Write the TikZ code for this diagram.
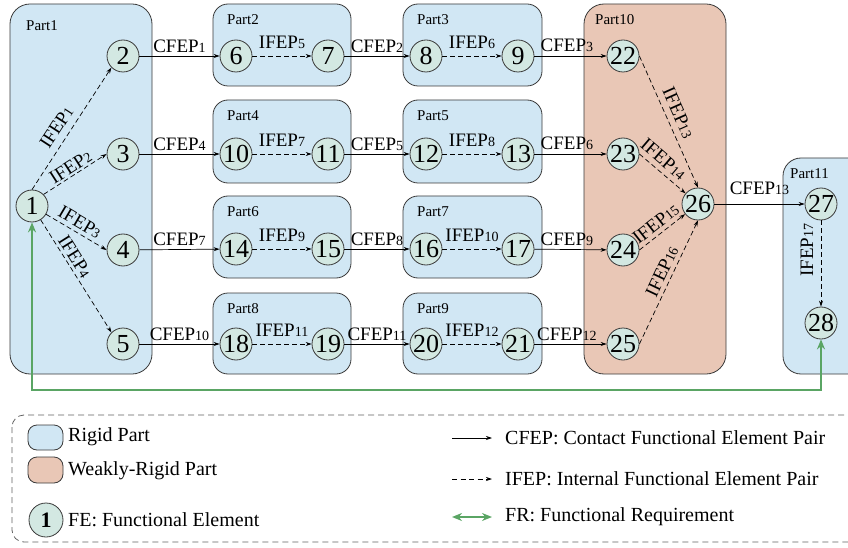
\documentclass[tikz,border=0pt]{standalone}
\usepackage{fontspec}
\setmainfont{Liberation Serif}
\usetikzlibrary{arrows.meta}
\definecolor{rigidc}{HTML}{D1E7F4}
\definecolor{weakc}{HTML}{E9C7B6}
\definecolor{fec}{HTML}{D3E8E2}
\definecolor{edgec}{HTML}{3A3A3A}
\definecolor{frc}{HTML}{5AA564}
\newcommand\sbn[1]{{\fontsize{14}{14}\selectfont #1}}
\begin{document}
\begin{tikzpicture}[x=1pt,y=-1pt,
 fe/.style={circle,draw=edgec,fill=fec,line width=0.8pt,minimum size=32pt,inner sep=0pt,font=\fontsize{26}{26}\selectfont},
 rigid/.style={draw=edgec,fill=rigidc,line width=0.8pt,rounded corners=15pt},
 weak/.style={draw=edgec,fill=weakc,line width=0.8pt,rounded corners=15pt},
 plabel/.style={anchor=north west,inner sep=0pt,font=\fontsize{15}{15}\selectfont},
 cfep/.style={draw=black,line width=0.7pt,-{Stealth[length=6pt,width=4pt]}},
 ifep/.style={cfep,dash pattern=on 5pt off 3pt},
 elab/.style={font=\fontsize{19}{19}\selectfont,inner sep=1pt},
 fr/.style={draw=frc,line width=1.9pt,{Stealth[length=10pt,width=8pt]}-{Stealth[length=10pt,width=8pt]}},
 legtext/.style={anchor=west,inner sep=0pt,font=\fontsize{20}{20}\selectfont},
]
\useasboundingbox (0,0) rectangle (848,548);
\clip (0,0) rectangle (848,548);

% parts
\path[rigid,rounded corners=20pt] (10,4) rectangle (152,374);
\path[rigid] (213,4) rectangle (351,86);
\path[rigid] (213,100) rectangle (351,183);
\path[rigid] (213,196) rectangle (351,278);
\path[rigid] (213,293) rectangle (351,374);
\path[rigid] (403,4) rectangle (542,86);
\path[rigid] (403,100) rectangle (542,183);
\path[rigid] (403,196) rectangle (542,278);
\path[rigid] (403,293) rectangle (542,374);
\path[weak,rounded corners=20pt] (584,4) rectangle (726,374);
\path[rigid,rounded corners=18pt] (783,158) rectangle (880,374);

\node[plabel] (p1) at (26,20) {Part1};
\node[plabel] (p2) at (227,14) {Part2};
\node[plabel] (p4) at (227,110) {Part4};
\node[plabel] (p6) at (227,206) {Part6};
\node[plabel] (p8) at (227,303) {Part8};
\node[plabel] (p3) at (417,14) {Part3};
\node[plabel] (p5) at (417,110) {Part5};
\node[plabel] (p7) at (417,206) {Part7};
\node[plabel] (p9) at (417,303) {Part9};
\node[plabel] (p10) at (595,14) {Part10};
\node[plabel] (p11) at (790,168) {Part11};

% functional elements
\node[fe] (n1) at (32,206) {1};
\node[fe] (n2) at (123,56) {2};
\node[fe] (n3) at (123,154) {3};
\node[fe] (n4) at (123,250) {4};
\node[fe] (n5) at (123,344) {5};
\node[fe] (n6) at (236,56) {6};
\node[fe] (n7) at (328,56) {7};
\node[fe] (n10) at (236,154) {10};
\node[fe] (n11) at (328,154) {11};
\node[fe] (n14) at (236,249) {14};
\node[fe] (n15) at (328,249) {15};
\node[fe] (n18) at (236,344) {18};
\node[fe] (n19) at (328,344) {19};
\node[fe] (n8) at (426,56) {8};
\node[fe] (n9) at (518,56) {9};
\node[fe] (n12) at (426,154) {12};
\node[fe] (n13) at (518,154) {13};
\node[fe] (n16) at (426,249) {16};
\node[fe] (n17) at (518,249) {17};
\node[fe] (n20) at (426,344) {20};
\node[fe] (n21) at (518,344) {21};
\node[fe] (n22) at (623,56) {22};
\node[fe] (n23) at (623,154) {23};
\node[fe] (n24) at (623,250) {24};
\node[fe] (n25) at (623,344) {25};
\node[fe] (n26) at (698,204) {26};
\node[fe] (n27) at (821,204) {27};
\node[fe] (n28) at (821,323) {28};

% IFEP in part1
\draw[ifep] (n1.north) -- node[elab,sloped,above=6pt,pos=0.45]{IFEP\sbn{1}} (n2.south west);
\draw[ifep] (n1.north east) -- node[elab,sloped,above=1pt,pos=0.5]{IFEP\sbn{2}} (n3.west);
\draw[ifep] (n1) -- node[elab,sloped,above=3pt,pos=0.47]{IFEP\sbn{3}} (n4.west);
\draw[ifep] (n1) -- node[elab,sloped,above=2pt,pos=0.37]{IFEP\sbn{4}} (n5.north west);

% CFEP
\draw[cfep] (n2) -- node[elab,above=2pt]{CFEP\sbn{1}} (n6);
\draw[cfep] (n7) -- node[elab,above=2pt]{CFEP\sbn{2}} (n8);
\draw[cfep] (n9) -- node[elab,above=3pt,pos=0.45]{CFEP\sbn{3}} (n22);
\draw[cfep] (n3) -- node[elab,above=2pt]{CFEP\sbn{4}} (n10);
\draw[cfep] (n11) -- node[elab,above=2pt]{CFEP\sbn{5}} (n12);
\draw[cfep] (n13) -- node[elab,above=3pt,pos=0.45]{CFEP\sbn{6}} (n23);
\draw[cfep] (n4) -- node[elab,above=2pt]{CFEP\sbn{7}} (n14);
\draw[cfep] (n15) -- node[elab,above=2pt]{CFEP\sbn{8}} (n16);
\draw[cfep] (n17) -- node[elab,above=2pt,pos=0.45]{CFEP\sbn{9}} (n24);
\draw[cfep] (n5) -- node[elab,above=2pt]{CFEP\sbn{10}} (n18);
\draw[cfep] (n19) -- node[elab,above=2pt]{CFEP\sbn{11}} (n20);
\draw[cfep] (n21) -- node[elab,above=2pt,pos=0.45]{CFEP\sbn{12}} (n25);
\draw[cfep] (n26) -- node[elab,above=8pt]{CFEP\sbn{13}} (n27);

% IFEP inside parts
\draw[ifep] (n6) -- node[elab,above=6pt]{IFEP\sbn{5}} (n7);
\draw[ifep] (n8) -- node[elab,above=6pt]{IFEP\sbn{6}} (n9);
\draw[ifep] (n10) -- node[elab,above=6pt]{IFEP\sbn{7}} (n11);
\draw[ifep] (n12) -- node[elab,above=6pt]{IFEP\sbn{8}} (n13);
\draw[ifep] (n14) -- node[elab,above=6pt]{IFEP\sbn{9}} (n15);
\draw[ifep] (n16) -- node[elab,above=6pt]{IFEP\sbn{10}} (n17);
\draw[ifep] (n18) -- node[elab,above=6pt]{IFEP\sbn{11}} (n19);
\draw[ifep] (n20) -- node[elab,above=6pt]{IFEP\sbn{12}} (n21);

% IFEP into 26
\draw[ifep] (n22.east) -- node[elab,sloped,above=5pt,pos=0.47]{IFEP\sbn{13}} (n26.north);
\draw[ifep] (n23.east) -- node[elab,sloped,above=4pt,pos=0.36]{IFEP\sbn{14}} (n26);
\draw[ifep] (n24.east) -- node[elab,sloped,above=3pt,pos=0.5]{IFEP\sbn{15}} (n26);
\draw[ifep] (n25.east) -- node[elab,sloped,above=3pt,pos=0.55]{IFEP\sbn{16}} (n26.south);

% IFEP17
\draw[ifep] (n27) -- (n28);
\node[elab,rotate=90] (l17) at (807,250) {IFEP\sbn{17}};

% functional requirement
\coordinate (frY) at (0,390);
\draw[fr] (n1.south) -- (n1.south |- frY) -| (n28.south);

% legend
\draw[draw=edgec!80,line width=0.8pt,dash pattern=on 6pt off 4pt,rounded corners=12pt] (12,415) rectangle (880,542);
\path[rigid,rounded corners=9pt] (28,425) rectangle (63,450);
\path[weak,rounded corners=9pt] (28,457) rectangle (63,483);
\node[fe,minimum size=34pt,font=\fontsize{22}{22}\selectfont\bfseries] (lfe) at (46,520) {1};
\node[legtext] (lt1) at (68,437) {Rigid Part};
\node[legtext] (lt2) at (68,471) {Weakly-Rigid Part};
\node[legtext] (lt3) at (68,520) {FE: Functional Element};

\coordinate (la1) at (452,438);
\coordinate (lb1) at (492,438);
\coordinate (la2) at (452,479);
\coordinate (lb2) at (492,479);
\coordinate (la3) at (452,517);
\coordinate (lb3) at (492,517);
\draw[cfep] (la1) -- (lb1);
\draw[ifep,dash pattern=on 5pt off 3.5pt] (la2) -- (lb2);
\draw[fr,line width=1.6pt] (la3) -- (lb3);
\node[legtext] (rt1) at (505,438) {CFEP: Contact Functional Element Pair};
\node[legtext] (rt2) at (505,479) {IFEP: Internal Functional Element Pair};
\node[legtext] (rt3) at (505,517) {FR: Functional Requirement};
\end{tikzpicture}
\end{document}
